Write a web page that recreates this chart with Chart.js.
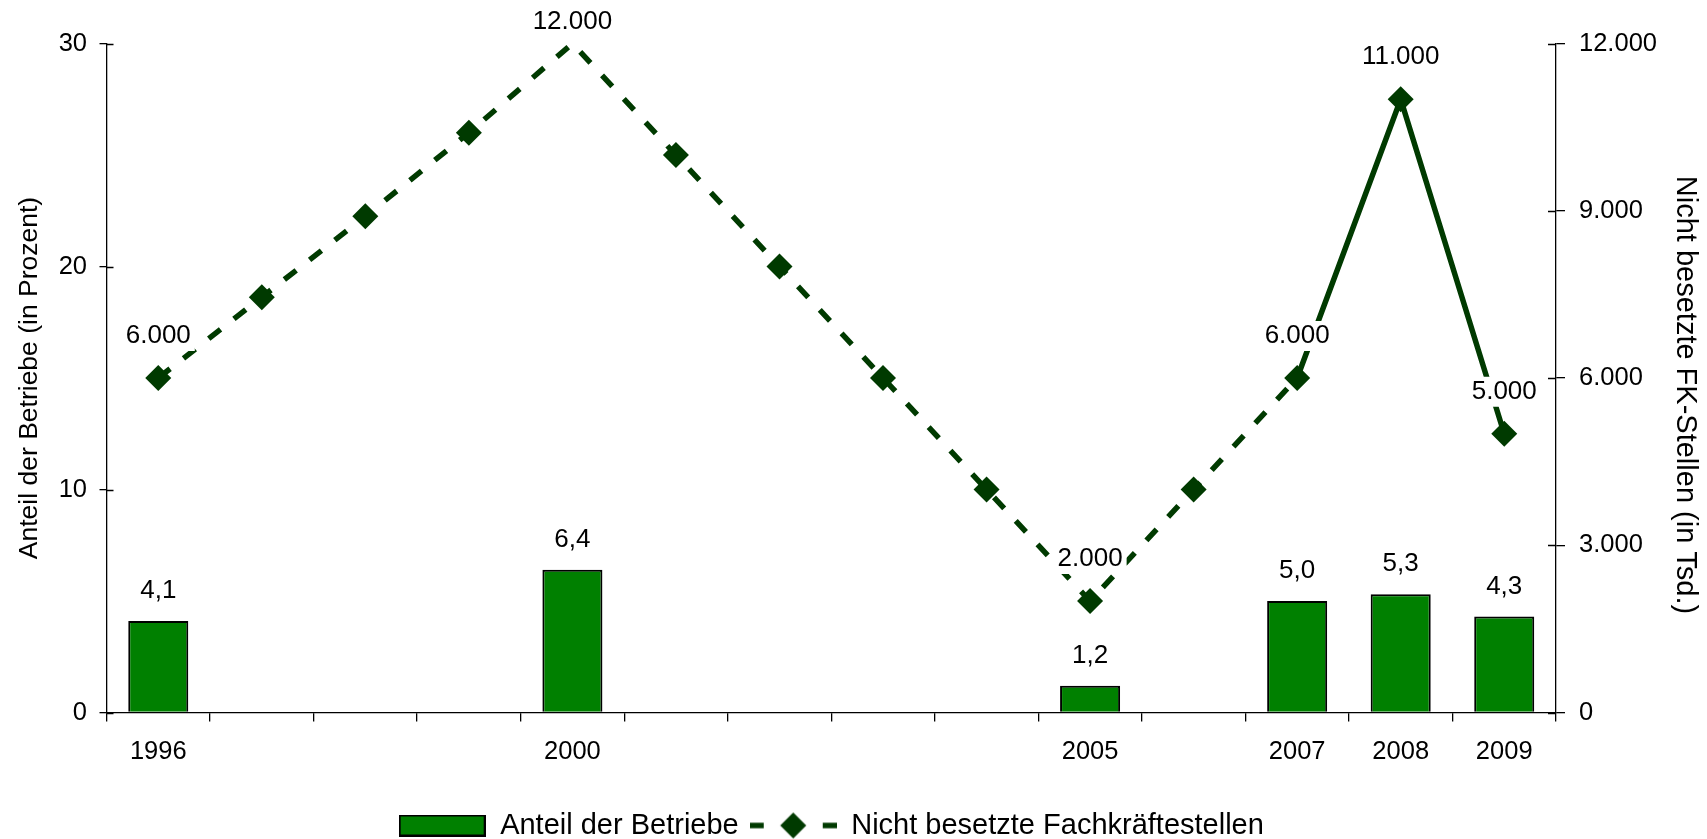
<!DOCTYPE html>
<html>
<head>
<meta charset="utf-8">
<script src="https://cdn.jsdelivr.net/npm/chart.js@4/dist/chart.umd.min.js"></script>
<style>
html,body{margin:0;padding:0;background:#fff;}
#wrap{width:1707px;height:839px;position:relative;}
</style>
</head>
<body>
<div id="wrap"><canvas id="c"></canvas></div>
<script>
// ---- data ----
const years = ['1996','1997','1998','1999','2000','2001','2002','2003','2004','2005','2006','2007','2008','2009'];
const shownYears = ['1996','2000','2005','2007','2008','2009'];
const anteilBetriebe = [4.1, null, null, null, 6.4, null, null, null, null, 1.2, null, 5.0, 5.3, 4.3];
const offeneStellen = [6000, 7450, 8900, 10400, 12000, 10000, 8000, 6000, 4000, 2000, 4000, 6000, 11000, 5000];
const labelledYears = ['1996','2000','2005','2007','2008','2009'];
const leftTicks = [0, 10, 20, 30];
const rightTicks = [0, 3000, 6000, 9000, 12000];
const solidFromYear = '2007';
const leftTitle = 'Anteil der Betriebe (in Prozent)';
const rightTitle = 'Nicht besetzte FK-Stellen (in Tsd.)';

// ---- styles ----
const FONT = '"Liberation Sans", Arial, Helvetica, sans-serif';
const BAR_FILL = '#008000';
const LINE_COLOR = '#003a00';

function fmtThousands(v) { return String(Math.round(v)).replace(/\B(?=(\d{3})+(?!\d))/g, '.'); }
function fmtDecimal(v) { return v.toFixed(1).replace('.', ','); }

function makeBarSwatch() {
  const c = document.createElement('canvas');
  c.width = 87; c.height = 22;
  const g = c.getContext('2d');
  g.fillStyle = BAR_FILL;
  g.fillRect(1, 1, 85, 20);
  g.strokeStyle = '#000'; g.lineWidth = 2;
  g.strokeRect(1, 1, 85, 20);
  return c;
}
function makeLineSwatch() {
  const c = document.createElement('canvas');
  c.width = 87; c.height = 28;
  const g = c.getContext('2d');
  g.strokeStyle = LINE_COLOR; g.lineWidth = 5.5;
  g.beginPath();
  g.moveTo(0, 14); g.lineTo(14, 14);
  g.moveTo(73, 14); g.lineTo(87, 14);
  g.stroke();
  g.fillStyle = LINE_COLOR;
  g.beginPath();
  g.moveTo(30.5, 14); g.lineTo(43.5, 1); g.lineTo(56.5, 14); g.lineTo(43.5, 27); g.closePath();
  g.fill();
  return c;
}
const barSwatch = makeBarSwatch();
const lineSwatch = makeLineSwatch();

const valueLabels = {
  id: 'valueLabels',
  afterDatasetsDraw(chart) {
    const ctx = chart.ctx;
    ctx.save();
    ctx.font = '26px ' + FONT;
    ctx.textAlign = 'center';
    ctx.textBaseline = 'middle';
    const barMeta = chart.getDatasetMeta(0);
    barMeta.data.forEach((el, i) => {
      const v = anteilBetriebe[i];
      if (v === null || v === undefined) return;
      ctx.fillStyle = '#000';
      ctx.fillText(fmtDecimal(v), el.x, el.y - 30);
    });
    const lineMeta = chart.getDatasetMeta(1);
    lineMeta.data.forEach((el, i) => {
      if (!labelledYears.includes(years[i])) return;
      const t = fmtThousands(offeneStellen[i]);
      const w = ctx.measureText(t).width;
      const cy = Math.max(el.y - 42, 22);
      ctx.fillStyle = '#fff';
      ctx.fillRect(el.x - w / 2 - 4, cy - 15, w + 8, 30);
      ctx.fillStyle = '#000';
      ctx.fillText(t, el.x, cy);
    });
    ctx.restore();
  }
};

// inner halves of the value-axis tick marks (they cross the axis line) + right axis title
const crossTicks = {
  id: 'crossTicks',
  afterDraw(chart) {
    const ctx = chart.ctx;
    ctx.save();
    ctx.strokeStyle = '#000';
    ctx.lineWidth = 1.3;
    const yl = chart.scales.y, yr = chart.scales.y2;
    ctx.beginPath();
    yl.ticks.forEach(t => {
      const py = Math.round(yl.getPixelForValue(t.value)) + 0.5;
      ctx.moveTo(yl.right, py); ctx.lineTo(yl.right + 7, py);
    });
    yr.ticks.forEach(t => {
      const py = Math.round(yr.getPixelForValue(t.value)) + 0.5;
      ctx.moveTo(yr.left, py); ctx.lineTo(yr.left - 8, py);
    });
    ctx.stroke();
    ctx.fillStyle = '#000';
    ctx.font = '29px ' + FONT;
    ctx.textAlign = 'center';
    ctx.textBaseline = 'middle';
    const ca = chart.chartArea;
    ctx.translate(yr.right - 22, (ca.top + ca.bottom) / 2 + 17);
    ctx.rotate(Math.PI / 2);
    ctx.fillText(rightTitle, 0, 0);
    ctx.restore();
  }
};

const solidIdx = years.indexOf(solidFromYear);

new Chart(document.getElementById('c'), {
  type: 'bar',
  data: {
    labels: years,
    datasets: [
      {
        type: 'bar',
        label: 'Anteil der Betriebe',
        data: anteilBetriebe,
        yAxisID: 'y',
        backgroundColor: BAR_FILL,
        borderColor: '#000',
        borderWidth: 2,
        categoryPercentage: 1,
        barPercentage: 0.58,
        order: 2
      },
      {
        type: 'line',
        label: 'Nicht besetzte Fachkräftestellen',
        data: offeneStellen,
        yAxisID: 'y2',
        borderColor: LINE_COLOR,
        backgroundColor: LINE_COLOR,
        borderWidth: 5.5,
        tension: 0,
        fill: false,
        pointStyle: 'rectRot',
        pointRadius: ctx => (ctx.raw >= rightTicks[rightTicks.length - 1] ? 0 : 13),
        pointBorderWidth: 0,
        pointBackgroundColor: LINE_COLOR,
        segment: {
          borderDash: ctx => (ctx.p0DataIndex < solidIdx ? [15, 17] : undefined)
        },
        order: 1
      }
    ]
  },
  options: {
    responsive: true,
    maintainAspectRatio: false,
    animation: false,
    devicePixelRatio: 1,
    layout: { padding: { top: 43.5, left: 0, right: 0, bottom: -11 } },
    plugins: {
      tooltip: { enabled: false },
      legend: {
        position: 'bottom',
        fullSize: false,
        labels: {
          usePointStyle: true,
          pointStyleWidth: 87,
          padding: 11,
          color: '#000',
          font: { family: FONT, size: 29 },
          generateLabels: () => [
            { text: 'Anteil der Betriebe', pointStyle: barSwatch, datasetIndex: 0, fillStyle: BAR_FILL, strokeStyle: '#000', lineWidth: 0, hidden: false, fontColor: '#000' },
            { text: 'Nicht besetzte Fachkräftestellen', pointStyle: lineSwatch, datasetIndex: 1, fillStyle: LINE_COLOR, strokeStyle: LINE_COLOR, lineWidth: 0, hidden: false, fontColor: '#000' }
          ]
        }
      }
    },
    scales: {
      x: {
        offset: true,
        grid: { display: true, offset: true, drawOnChartArea: false, drawTicks: true, tickLength: 9, color: '#000', lineWidth: 1.3 },
        border: { display: true, color: '#000', width: 1.3 },
        ticks: {
          autoSkip: false, maxRotation: 0, minRotation: 0, padding: 15, color: '#000',
          font: { family: FONT, size: 25.5 },
          callback: (val, idx) => (shownYears.includes(years[idx]) ? years[idx] : '')
        },
        afterFit: s => { s.height = 87.5; }
      },
      y: {
        position: 'left',
        min: 0, max: 30,
        afterBuildTicks: s => { s.ticks = leftTicks.map(v => ({ value: v })); },
        grid: { drawOnChartArea: false, drawTicks: true, tickLength: 7, color: '#000', lineWidth: 1.3 },
        border: { display: true, color: '#000', width: 1.3 },
        ticks: { padding: 12.5, color: '#000', font: { family: FONT, size: 25.5 } },
        title: { display: true, text: leftTitle, color: '#000', font: { family: FONT, size: 26.5 }, padding: { top: 14, bottom: 0 } },
        afterFit: s => { s.width = 106.5; }
      },
      y2: {
        position: 'right',
        min: 0, max: 12000,
        afterBuildTicks: s => { s.ticks = rightTicks.map(v => ({ value: v })); },
        grid: { drawOnChartArea: false, drawTicks: true, tickLength: 9, color: '#000', lineWidth: 1.3 },
        border: { display: true, color: '#000', width: 1.3 },
        ticks: { padding: 14, color: '#000', font: { family: FONT, size: 25.5 }, callback: v => fmtThousands(v) },
        title: { display: false, text: rightTitle },
        afterFit: s => { s.width = 151; }
      }
    }
  },
  plugins: [valueLabels, crossTicks]
});
</script>
</body>
</html>
